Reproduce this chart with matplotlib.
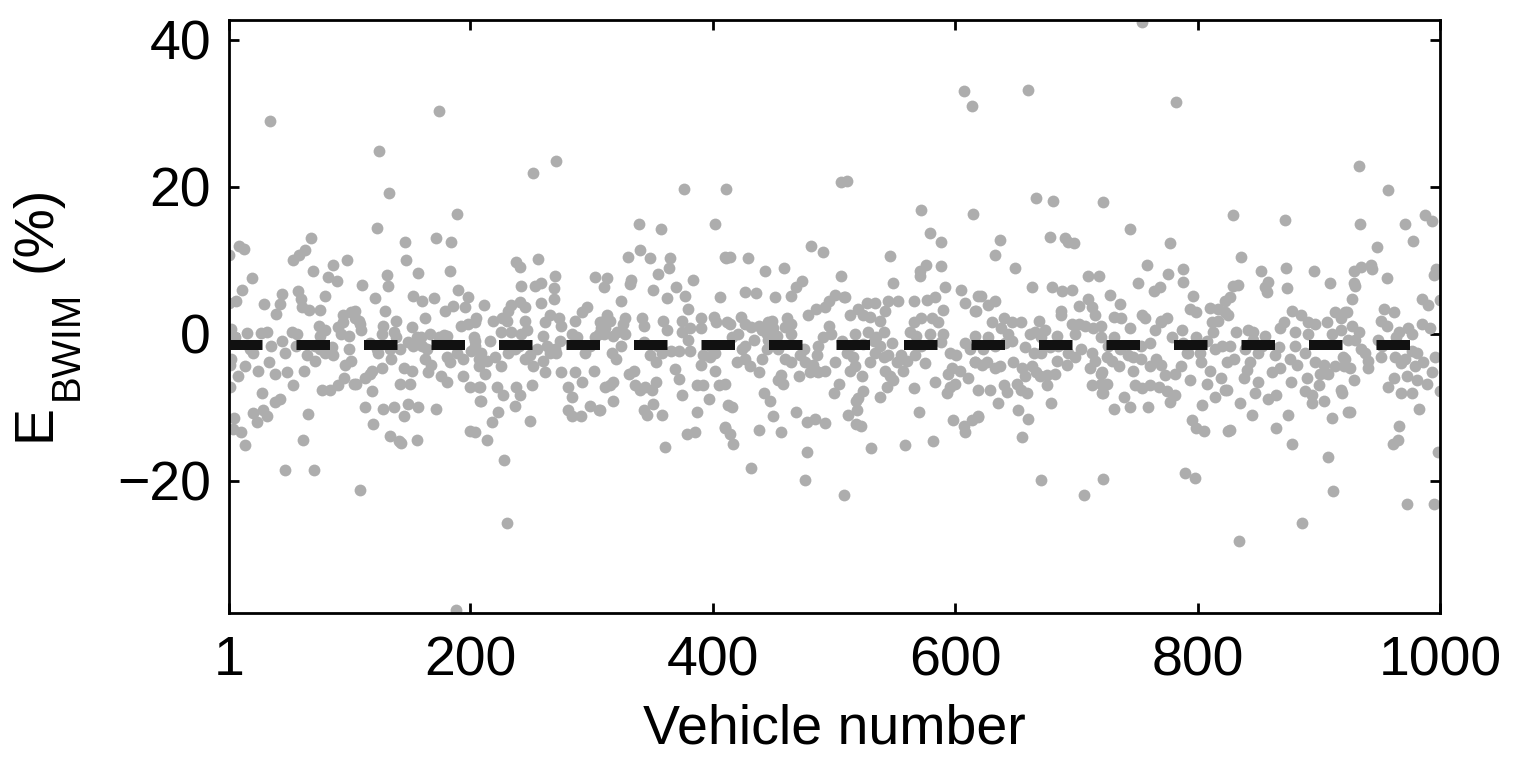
import numpy as np
import matplotlib
matplotlib.use("Agg")
import matplotlib.pyplot as plt
from matplotlib.transforms import IdentityTransform

# (vehicle number, error %), block by block
pts_001_100 = [(35, 29.0), (1, 10.7), (9, 12.0), (13, 11.5), (69, 13.1), (64, 11.4), (54, 10.0), (59, 10.7), (98, 10.0),
               (70, 8.5), (87, 9.3), (20, 7.6), (12, 6.0), (83, 7.7), (90, 7.2), (7, 4.4), (30, 4.1), (45, 5.4),
               (43, 4.1), (40, 2.7), (58, 5.8), (60, 4.7), (67, 3.3), (80, 5.1), (76, 3.3), (95, 2.6), (102, 2.9),
               (57, 0.0), (75, 1.1), (80, 0.5), (91, 0.9), (93, 0.0), (100, -0.3), (32, 0.3), (27, 0.1), (16, 0.1),
               (6, -0.5), (36, -1.7), (45, -1.0), (47, -2.6), (21, -2.6), (18, -2.1), (3, -3.4), (65, -2.9),
               (72, -3.7), (80, -2.6), (87, -2.9), (86, -1.8), (97, -4.2), (100, -2.1), (49, -5.2), (63, -5.1),
               (39, -5.5), (25, -5.0), (14, -4.4), (8, -5.7), (34, -3.9), (2, -7.3), (28, -8.1), (39, -9.3),
               (43, -8.9), (5, -11.5), (21, -10.8), (24, -12.0), (29, -10.4), (32, -11.2), (11, -13.3), (14, -15.2),
               (66, -10.9), (62, -14.4), (47, -18.5), (71, -18.5), (54, -7.0), (78, -7.6), (84, -7.7), (91, -7.0),
               (96, -6.0), (104, -6.9), (72, -1.6), (76, -2.1), (56, -1.6), (53, 0.3), (76, -0.3), (95, 1.6),
               (1, 0.0), (61, 3.7), (1, 4.2), (2, -4.3), (3, 0.7), (4, -13.0)]

pts_101_200 = [(174, 30.3), (125, 24.9), (133, 19.1), (189, 16.3), (123, 14.4), (146, 12.5), (172, 13.0), (184, 12.5),
               (147, 10.1), (157, 8.3), (183, 8.5), (131, 8.0), (132, 6.5), (111, 6.6), (190, 6.0), (121, 4.8),
               (153, 5.2), (160, 4.4), (170, 4.8), (130, 3.1), (139, 1.8), (179, 3.1), (186, 3.8), (196, 3.7),
               (198, 5.0), (105, 3.1), (108, 1.8), (110, 0.5), (163, 2.2), (152, 0.9), (159, -0.4), (167, 0.0),
               (127, 0.0), (137, 0.3), (134, -2.1), (142, -2.1), (149, -1.1), (153, -1.7), (124, -2.6), (135, -3.4),
               (127, -4.6), (164, -2.1), (163, -3.4), (168, -4.2), (165, -5.2), (181, -3.1), (183, -3.9), (194, -3.4),
               (201, -2.3), (192, 1.0), (198, 1.3), (204, 1.6), (203, -0.5), (178, -0.1), (174, -0.5), (145, -4.7),
               (152, -5.1), (176, -5.7), (181, -6.5), (194, -5.7), (102, -3.7), (113, -6.0), (106, -6.8), (117, -5.5),
               (119, -5.0), (142, -6.9), (150, -6.9), (200, -7.3), (207, -7.3), (119, -7.8), (113, -9.9), (120, -12.3),
               (128, -10.3), (137, -10.0), (145, -11.2), (149, -9.5), (157, -10.0), (172, -10.2), (134, -13.9),
               (141, -14.6), (143, -14.9), (156, -14.4), (200, -13.2), (208, -9.1), (109, -21.3), (188, -37.6),
               (105, 2.1), (109, 1.3), (117, -1.3), (123, -2.1), (128, 1.0), (139, -0.5), (156, -0.5), (160, -1.6),
               (181, -0.3), (189, -2.6), (204, -1.6), (207, -3.4)]

pts_201_310 = [(271, 23.5), (252, 21.9), (238, 9.7), (241, 9.1), (256, 10.2), (270, 7.8), (303, 7.7), (310, 6.3),
               (242, 6.5), (253, 6.5), (258, 6.9), (269, 6.2), (211, 3.9), (231, 3.1), (234, 3.9), (241, 4.3),
               (245, 3.7), (258, 4.2), (269, 4.7), (205, 2.1), (219, 1.8), (226, 2.1), (230, 1.8), (245, 1.8),
               (262, 1.6), (266, 2.6), (273, 2.1), (275, 1.0), (286, 1.8), (292, 2.9), (296, 3.7), (307, 1.6),
               (204, -1.0), (216, -1.0), (225, 0.3), (237, -2.1), (249, -2.9), (255, -2.1), (260, -0.3), (263, -1.6),
               (270, -2.1), (274, -1.0), (284, 0.0), (288, -0.5), (303, -0.5), (214, -3.7), (220, -3.1), (225, -4.4),
               (207, -4.4), (212, -5.5), (252, -4.4), (260, -3.7), (262, -5.2), (275, -5.2), (286, -5.2), (281, -7.2),
               (292, -6.5), (302, -5.0), (208, -7.3), (209, -9.1), (222, -7.3), (227, -8.3), (238, -7.3), (241, -8.4),
               (237, -9.8), (251, -7.0), (284, -8.6), (281, -10.4), (284, -11.2), (291, -11.2), (299, -9.8),
               (306, -10.4), (223, -10.6), (218, -12.0), (204, -13.3), (214, -14.4), (249, -11.9), (228, -17.2),
               (230, -25.8), (311, -7.3), (209, -2.6), (231, -2.6), (240, -1.6), (245, -3.4), (266, -2.6), (271, -2.6),
               (295, -2.6), (299, -1.6), (306, 0.0), (308, 0.8), (234, 0.3), (242, 0.0), (247, 0.5)]

pts_311_415 = [(376, 19.7), (411, 19.7), (339, 14.9), (357, 14.3), (402, 15.0), (340, 11.4), (348, 10.3), (330, 10.5),
               (365, 10.3), (364, 8.9), (355, 8.1), (384, 7.3), (411, 10.3), (313, 7.6), (333, 7.3), (332, 6.8),
               (351, 6.0), (362, 4.8), (370, 6.4), (377, 5.2), (324, 4.4), (380, 3.4), (406, 5.0), (313, 2.6),
               (315, 1.8), (328, 2.1), (342, 2.1), (359, 1.8), (343, 1.0), (326, 1.3), (375, 1.8), (390, 2.1),
               (401, 2.3), (381, 0.8), (310, 0.0), (318, -0.3), (328, 0.0), (324, -1.6), (317, -2.6), (320, -3.4),
               (348, -2.9), (353, -3.9), (358, -2.6), (366, -2.3), (372, -2.3), (381, -2.3), (390, -4.2), (392, -2.9),
               (398, -3.1), (331, -5.5), (335, -5.0), (369, -4.8), (372, -6.1), (402, -5.0), (315, -7.0), (318, -6.5),
               (336, -7.0), (340, -7.6), (344, -7.3), (350, -7.6), (353, -6.5), (387, -7.0), (392, -7.0), (397, -8.9),
               (405, -7.0), (375, -8.3), (318, -9.1), (343, -10.4), (346, -11.0), (358, -11.1), (351, -9.5),
               (387, -10.7), (379, -13.6), (385, -13.3), (361, -15.4), (410, -12.7), (307, -10.4), (413, -9.7),
               (414, -13.7), (362, 0.5), (375, 0.3), (390, 0.8), (403, 1.6), (343, -1.1), (355, -1.6), (380, -0.9),
               (398, -1.6), (402, -2.6), (309, 1.6), (311, 0.8), (321, 0.3)]

pts_416_518 = [(506, 20.6), (511, 20.8), (410, 10.5), (414, 10.4), (429, 10.3), (481, 12.0), (491, 11.1), (443, 8.5),
               (459, 8.9), (474, 7.2), (469, 6.3), (465, 5.2), (427, 5.7), (436, 5.6), (451, 5.0), (506, 7.9),
               (509, 5.0), (423, 2.3), (414, 1.3), (446, 1.6), (449, 1.8), (438, 1.1), (432, 0.9), (427, 1.3),
               (461, 2.1), (465, 1.3), (479, 2.6), (485, 3.4), (493, 3.7), (496, 4.4), (501, 5.3), (508, 5.0),
               (496, 1.0), (498, 0.0), (491, -0.5), (513, 2.6), (421, 0.0), (416, -0.5), (427, -1.6), (434, -0.8),
               (441, 0.5), (450, 0.8), (453, -0.3), (487, -1.6), (486, -2.9), (420, -3.9), (427, -3.4), (431, -4.4),
               (438, -5.2), (441, -3.4), (445, -2.1), (460, -3.4), (465, -3.9), (472, -2.9), (476, -3.9), (475, -2.1),
               (483, -4.2), (487, -5.2), (493, -5.1), (485, -5.0), (480, -5.2), (501, -3.8), (513, -5.0), (456, -5.6),
               (458, -6.8), (471, -5.8), (454, -6.3), (410, -6.8), (504, -6.8), (500, -8.1), (442, -8.1), (447, -9.1),
               (416, -10.0), (410, -12.8), (438, -13.1), (450, -11.2), (456, -13.3), (469, -10.7), (478, -12.0),
               (484, -11.6), (493, -12.2), (512, -11.0), (518, -9.1), (417, -15.0), (432, -18.3), (478, -16.1),
               (476, -19.9), (508, -22.0), (518, -12.3), (412, 1.6), (460, 0.9), (465, 0.0), (445, 0.0), (446, -0.8),
               (424, -2.1), (454, -2.1), (507, -1.0), (511, -2.6)]

pts_519_620 = [(607, 33.0), (614, 31.0), (572, 16.8), (615, 16.3), (579, 13.7), (588, 12.5), (546, 10.6), (576, 9.4),
               (571, 8.6), (571, 7.8), (588, 9.2), (549, 6.9), (592, 6.3), (605, 6.0), (608, 4.2), (619, 5.2),
               (617, 3.1), (566, 4.4), (577, 4.6), (583, 5.0), (553, 4.4), (545, 4.4), (527, 4.2), (534, 4.2),
               (520, 3.4), (590, 3.3), (524, 2.6), (530, 2.3), (538, 1.8), (542, 3.1), (566, 1.6), (572, 2.1),
               (581, 2.1), (586, 1.6), (563, 0.3), (579, 0.0), (517, 0.0), (528, 0.3), (535, -0.5), (541, 0.3),
               (548, -1.3), (533, -1.0), (513, -1.6), (516, -3.1), (517, -4.4), (534, -2.6), (530, -3.9), (541, -3.1),
               (545, -2.9), (555, -2.9), (552, -3.9), (560, -3.7), (567, -2.9), (557, -5.0), (575, -4.0), (596, -2.6),
               (601, -2.9), (597, -4.7), (604, -5.0), (594, -5.5), (600, -6.8), (611, -6.0), (616, -3.9), (608, -1.3),
               (612, -2.1), (523, -5.7), (542, -5.0), (546, -5.7), (549, -6.3), (583, -6.5), (593, -8.1), (596, -7.3),
               (566, -7.4), (544, -7.2), (538, -8.6), (520, -8.8), (524, -7.8), (519, -10.4), (522, -12.5),
               (570, -10.6), (598, -11.7), (607, -12.5), (608, -13.3), (614, -11.7), (619, -11.2), (531, -15.6),
               (559, -15.2), (582, -14.6), (568, -0.3), (572, -1.6), (590, 0.0), (588, -1.1), (524, -1.4), (538, -1.6)]

pts_621_722 = [(660, 33.2), (667, 18.5), (681, 18.0), (722, 17.9), (637, 12.7), (633, 10.7), (678, 13.2), (691, 13.1),
               (698, 12.3), (693, 12.5), (649, 9.0), (710, 7.9), (719, 7.9), (663, 6.4), (680, 6.3), (688, 5.8),
               (696, 6.0), (621, 5.1), (627, 3.9), (633, 4.4), (616, 3.1), (687, 3.1), (687, 2.6), (702, 3.8),
               (710, 4.7), (713, 3.7), (715, 2.6), (630, 1.6), (640, 2.1), (647, 1.6), (654, 1.6), (669, 1.8),
               (674, 0.5), (666, 0.3), (696, 1.3), (702, 1.3), (707, 1.0), (714, 0.8), (720, 1.0), (616, -0.3),
               (627, -0.5), (638, 0.8), (644, 0.0), (684, -0.3), (699, 0.0), (623, -2.1), (633, -1.6), (641, -1.3),
               (647, -1.0), (658, -1.8), (665, -2.6), (671, -2.6), (678, -1.8), (684, -3.7), (692, -4.2), (699, -3.1),
               (704, -2.1), (713, -2.6), (616, -3.9), (622, -4.2), (626, -3.9), (633, -4.7), (637, -4.4), (648, -3.9),
               (655, -4.7), (658, -5.7), (663, -4.4), (667, -5.2), (670, -5.7), (676, -5.6), (682, -5.5), (711, -4.6),
               (715, -3.7), (721, -5.2), (619, -7.6), (629, -7.6), (640, -7.0), (643, -7.9), (651, -6.8), (654, -7.6),
               (659, -8.1), (676, -7.0), (713, -7.0), (720, -6.8), (721, -8.1), (635, -9.4), (679, -9.4), (652, -10.4),
               (660, -11.6), (619, -11.3), (655, -14.0), (671, -19.9), (706, -22.0), (722, -19.7), (662, 0.0),
               (671, -0.5), (685, -1.6), (693, -2.6)]

pts_723_827 = [(754, 42.4), (782, 31.6), (744, 14.3), (777, 12.4), (758, 9.4), (776, 8.1), (788, 8.8), (788, 7.0),
               (751, 6.9), (764, 5.8), (769, 6.4), (728, 5.3), (736, 4.1), (796, 5.1), (794, 3.4), (799, 3.0),
               (810, 3.5), (817, 3.4), (823, 2.9), (827, 5.0), (731, 2.3), (737, 2.1), (754, 2.6), (757, 2.1),
               (770, 1.8), (775, 2.2), (744, 0.8), (770, 1.6), (812, 1.6), (817, 1.7), (813, 0.3), (787, 0.5),
               (765, 0.5), (779, -0.4), (725, -3.2), (729, -3.7), (735, -4.4), (743, -2.9), (747, -3.1), (753, -3.4),
               (747, -5.1), (761, -4.4), (766, -3.4), (770, -4.2), (773, -5.6), (781, -5.5), (786, -4.4), (791, -2.6),
               (794, -6.3), (802, -2.6), (803, -3.9), (810, -5.0), (808, -6.8), (819, -6.0), (823, -7.6), (814, -8.6),
               (720, -5.5), (725, -6.8), (722, -8.1), (748, -7.0), (754, -7.4), (761, -7.0), (768, -7.2), (775, -7.8),
               (781, -8.3), (731, -10.2), (739, -8.6), (744, -9.9), (759, -9.9), (777, -9.3), (795, -11.7),
               (799, -12.8), (805, -13.2), (804, -9.7), (825, -13.2), (790, -18.9), (798, -19.6), (720, -0.5),
               (731, -0.5), (788, -1.3), (792, -2.6), (799, -0.5), (808, -1.0), (814, -2.1), (820, -1.6), (753, -1.6),
               (761, -1.3), (726, -1.6), (736, -2.1)]

pts_828_925 = [(933, 22.8), (829, 16.1), (872, 15.5), (934, 14.9), (836, 10.5), (873, 9.0), (896, 8.6), (852, 8.5),
               (858, 7.0), (833, 6.6), (829, 6.5), (856, 6.3), (857, 5.7), (874, 6.2), (909, 6.9), (929, 6.9),
               (927, 4.7), (823, 4.4), (825, 2.6), (878, 3.1), (885, 2.6), (871, 1.6), (868, 0.8), (891, 1.6),
               (897, 1.3), (907, 1.6), (913, 2.9), (918, 2.1), (923, 2.9), (832, 0.3), (846, 0.3), (856, -0.3),
               (842, 0.5), (880, 0.3), (891, 0.0), (911, 0.0), (918, 0.5), (924, -0.8), (827, -1.6), (839, -2.1),
               (850, -2.6), (864, -2.9), (867, -1.8), (880, -1.6), (889, -2.6), (876, -3.4), (882, -4.2), (897, -3.9),
               (904, -4.2), (913, -4.4), (920, -3.1), (921, -4.4), (824, -3.9), (830, -3.4), (843, -3.9), (841, -4.9),
               (838, -6.0), (861, -5.2), (868, -4.7), (850, -6.5), (890, -6.0), (901, -5.5), (905, -5.3), (900, -7.0),
               (908, -5.5), (877, -6.5), (824, -7.6), (847, -8.1), (835, -9.4), (858, -8.9), (865, -8.4), (889, -7.8),
               (894, -8.4), (918, -7.7), (919, -8.1), (904, -9.1), (894, -9.4), (845, -11.1), (875, -11.0),
               (865, -12.8), (827, -13.1), (924, -10.7), (911, -11.5), (878, -15.0), (908, -16.8), (912, -21.4),
               (886, -25.8), (834, -28.2), (846, -0.8), (853, -1.6)]

pts_926_1000 = [(957, 19.5), (971, 15.0), (978, 12.6), (988, 16.1), (993, 15.3), (948, 11.8), (995, 8.0), (997, 8.8),
                (929, 8.5), (935, 9.1), (943, 9.4), (944, 8.8), (956, 7.6), (930, 6.5), (985, 4.7), (990, 3.9),
                (1000, 4.6), (954, 3.4), (962, 2.9), (951, 1.8), (956, 1.0), (966, 0.3), (974, 0.8), (977, 0.0),
                (985, 1.3), (992, 0.8), (922, 2.9), (927, 1.0), (933, 0.3), (930, -0.8), (949, -0.8), (952, -1.6),
                (935, -2.1), (938, -2.6), (941, -3.7), (941, -4.7), (951, -3.2), (963, -3.2), (971, -3.4), (977, -2.3),
                (981, -2.6), (979, -4.4), (986, -3.9), (996, -3.1), (922, -3.4), (926, -4.7), (929, -6.3), (962, -6.0),
                (957, -7.3), (973, -5.7), (981, -6.3), (989, -6.8), (993, -5.2), (968, -8.1), (977, -8.1),
                (1000, -7.8), (983, -10.2), (926, -10.7), (966, -12.6), (965, -14.4), (961, -15.0), (998, -16.1),
                (973, -23.2), (995, -23.2), (968, -4.0), (964, -0.5)]

mean_error = -1.5
x_ticks = [1, 200, 400, 600, 800, 1000]
y_ticks = [-20, 0, 20, 40]

blocks = [pts_001_100, pts_101_200, pts_201_310, pts_311_415, pts_416_518,
          pts_519_620, pts_621_722, pts_723_827, pts_828_925, pts_926_1000]
pts = np.array([p for b in blocks for p in b])
vehicle = pts[:, 0]
error = pts[:, 1]

plt.rcParams['font.family'] = ['Liberation Sans', 'DejaVu Sans']

fig = plt.figure(figsize=(15.23, 7.57), dpi=100)
ax = fig.add_axes([0.1504, 0.1902, 0.7951, 0.7834])

ax.plot(vehicle, error, 'o', color='#adadad', markersize=8.5, markeredgewidth=0, zorder=2)
ax.plot([1, 1000], [mean_error, mean_error], color='#111111', linewidth=7.2,
        dashes=(3.35, 3.4), solid_capstyle='butt', dash_capstyle='butt', zorder=3)

ax.set_xlim(1, 1000)
ax.set_ylim(-38.0, 42.7)
ax.set_xticks(x_ticks)
ax.set_yticks(y_ticks)
ax.tick_params(direction='in', length=7, width=2, labelsize=40, top=True, right=True)
ax.tick_params(axis='x', pad=16)
ax.tick_params(axis='y', pad=13)
for s in ax.spines.values():
    s.set_linewidth(2)

ax.set_xlabel('Vehicle number', fontsize=40, labelpad=12)

# y label "E_BWIM (%)" built from pieces so the subscript size can be set
px = IdentityTransform()
kw = dict(transform=px, rotation=90, rotation_mode='anchor', ha='left', va='baseline')
fig.text(50, 757 - 441, 'E', fontsize=40, **kw)
fig.text(78, 757 - 400, 'BWIM', fontsize=29, **kw)
fig.text(50, 757 - 272, '(%)', fontsize=40, **kw)

fig.savefig('out.png', dpi=100)
